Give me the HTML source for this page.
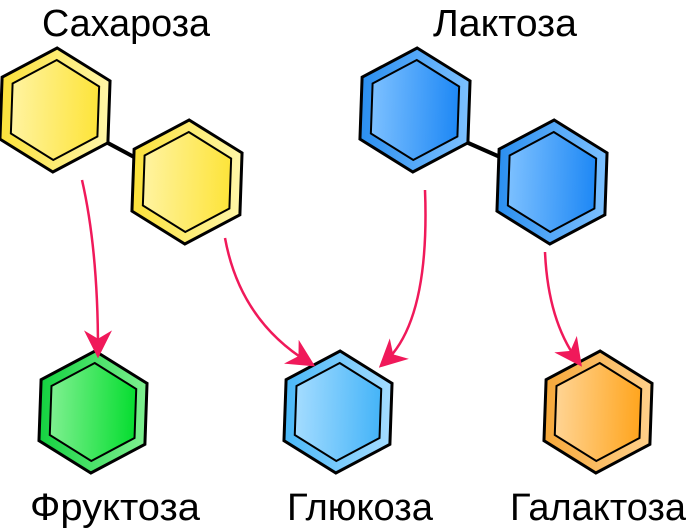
<!DOCTYPE html>
<html><head><meta charset="utf-8"><style>
html,body{margin:0;padding:0;background:#fff;width:688px;height:531px;overflow:hidden}
svg text{font-family:"Liberation Sans",sans-serif;font-size:38px;fill:#000;text-anchor:middle}
</style></head><body>
<svg width="688" height="531" viewBox="0 0 688 531" xmlns="http://www.w3.org/2000/svg">
<defs>
<linearGradient id="yo" x1="0" x2="1"><stop offset="0" stop-color="#fbe13a"/><stop offset="1" stop-color="#fff6a8"/></linearGradient>
<linearGradient id="yi" x1="0" x2="1"><stop offset="0" stop-color="#fff3a0"/><stop offset="1" stop-color="#fde43a"/></linearGradient>
<linearGradient id="bo" x1="0" x2="1"><stop offset="0" stop-color="#2b8ff0"/><stop offset="1" stop-color="#7cc0ff"/></linearGradient>
<linearGradient id="bi" x1="0" x2="1"><stop offset="0" stop-color="#7cc0ff"/><stop offset="1" stop-color="#1e88f5"/></linearGradient>
<linearGradient id="lo" x1="0" x2="1"><stop offset="0" stop-color="#4ab8f8"/><stop offset="1" stop-color="#a4dcff"/></linearGradient>
<linearGradient id="li" x1="0" x2="1"><stop offset="0" stop-color="#a4dcff"/><stop offset="1" stop-color="#45b4f8"/></linearGradient>
<linearGradient id="go" x1="0" x2="1"><stop offset="0" stop-color="#14d240"/><stop offset="1" stop-color="#7ef090"/></linearGradient>
<linearGradient id="gi" x1="0" x2="1"><stop offset="0" stop-color="#7ef090"/><stop offset="1" stop-color="#06dd30"/></linearGradient>
<linearGradient id="oo" x1="0" x2="1"><stop offset="0" stop-color="#f6a83a"/><stop offset="1" stop-color="#ffd08a"/></linearGradient>
<linearGradient id="oi" x1="0" x2="1"><stop offset="0" stop-color="#ffd494"/><stop offset="1" stop-color="#ffa51e"/></linearGradient>
<marker id="ar" viewBox="0 0 20 20" refX="14" refY="10" markerWidth="28" markerHeight="28" markerUnits="userSpaceOnUse" orient="auto">
<path d="M0,0 L20,10 L0,20 L6,10 Z" fill="#f0195a"/></marker>
</defs>
<line x1="106" y1="142" x2="134" y2="157" stroke="#000" stroke-width="4"/>
<line x1="466" y1="142" x2="500" y2="157" stroke="#000" stroke-width="4"/>
<g stroke="#000">
<g transform="translate(55,110) rotate(2)"><polygon points="0,-62 54,-31 54,31 0,62 -54,31 -54,-31" fill="url(#yo)" stroke-width="3"/><polygon points="0,-50 43.3,-25 43.3,25 0,50 -43.3,25 -43.3,-25" fill="url(#yi)" stroke-width="2"/></g>
<g transform="translate(187,182) rotate(2)"><polygon points="0,-62 54,-31 54,31 0,62 -54,31 -54,-31" fill="url(#yo)" stroke-width="3"/><polygon points="0,-50 43.3,-25 43.3,25 0,50 -43.3,25 -43.3,-25" fill="url(#yi)" stroke-width="2"/></g>
<g transform="translate(415,110) rotate(2)"><polygon points="0,-62 54,-31 54,31 0,62 -54,31 -54,-31" fill="url(#bo)" stroke-width="3"/><polygon points="0,-50 43.3,-25 43.3,25 0,50 -43.3,25 -43.3,-25" fill="url(#bi)" stroke-width="2"/></g>
<g transform="translate(552,182) rotate(2)"><polygon points="0,-62 54,-31 54,31 0,62 -54,31 -54,-31" fill="url(#bo)" stroke-width="3"/><polygon points="0,-50 43.3,-25 43.3,25 0,50 -43.3,25 -43.3,-25" fill="url(#bi)" stroke-width="2"/></g>
<g transform="translate(93,412) rotate(2)"><polygon points="0,-61 53,-30.5 53,30.5 0,61 -53,30.5 -53,-30.5" fill="url(#go)" stroke-width="3"/><polygon points="0,-49 42.4,-24.5 42.4,24.5 0,49 -42.4,24.5 -42.4,-24.5" fill="url(#gi)" stroke-width="2"/></g>
<g transform="translate(338,412) rotate(2)"><polygon points="0,-61 53,-30.5 53,30.5 0,61 -53,30.5 -53,-30.5" fill="url(#lo)" stroke-width="3"/><polygon points="0,-49 42.4,-24.5 42.4,24.5 0,49 -42.4,24.5 -42.4,-24.5" fill="url(#li)" stroke-width="2"/></g>
<g transform="translate(598,412) rotate(2)"><polygon points="0,-61 53,-30.5 53,30.5 0,61 -53,30.5 -53,-30.5" fill="url(#oo)" stroke-width="3"/><polygon points="0,-49 42.4,-24.5 42.4,24.5 0,49 -42.4,24.5 -42.4,-24.5" fill="url(#oi)" stroke-width="2"/></g>
</g>
<g fill="none" stroke="#f0195a" stroke-width="2.5" marker-end="url(#ar)">
<path d="M82,180 Q98,250 98,350"/>
<path d="M225,238 Q240,320 308,362"/>
<path d="M425,190 Q430,320 385,362"/>
<path d="M545,252 Q548,320 577,360"/>
</g>
<text x="126" y="36" textLength="168" lengthAdjust="spacingAndGlyphs">Сахароза</text>
<text x="505" y="36" textLength="144" lengthAdjust="spacingAndGlyphs">Лактоза</text>
<text x="115" y="520" textLength="170" lengthAdjust="spacingAndGlyphs">Фруктоза</text>
<text x="360" y="520" textLength="146" lengthAdjust="spacingAndGlyphs">Глюкоза</text>
<text x="598" y="520" textLength="176" lengthAdjust="spacingAndGlyphs">Галактоза</text>
</svg>
</body></html>
